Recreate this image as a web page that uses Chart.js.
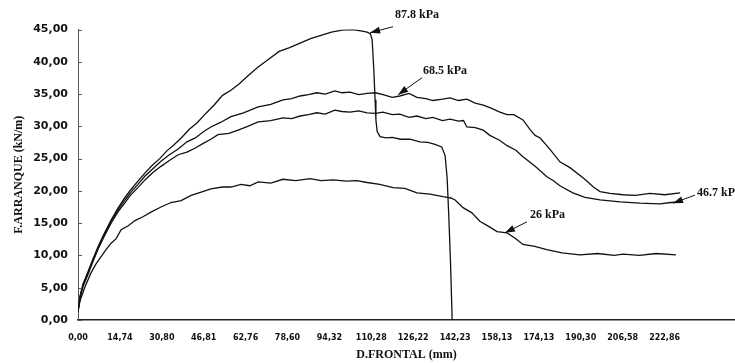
<!DOCTYPE html>
<html>
<head>
<meta charset="utf-8">
<script src="https://cdn.jsdelivr.net/npm/chart.js@4.4.1/dist/chart.umd.min.js"></script>
<style>
  html, body { margin: 0; padding: 0; background: #fff; }
  #wrap { width: 735px; height: 363px; }
</style>
</head>
<body>
<div id="wrap"><canvas id="chart"></canvas></div>
<script>
// tick labels on the x axis (D.FRONTAL, mm), one per category step
const xLabels = ['0,00', '14,74', '30,80', '46,81', '62,76', '78,60', '94,32', '110,28',
    '126,22', '142,23', '158,13', '174,13', '190,30', '206,58', '222,86'];

// 87.8 kPa
const x878 = [0, 0.05, 0.12, 0.24, 0.36, 0.48, 0.62, 0.79, 0.95, 1.10, 1.25, 1.43, 1.60, 1.78, 1.95, 2.12,
    2.30, 2.48, 2.65, 2.85, 3.05, 3.25, 3.45, 3.65, 3.85, 4.05, 4.30, 4.55, 4.80, 5.05, 5.30, 5.55, 5.80,
    6.05, 6.30, 6.55, 6.75, 6.90, 6.98, 7.02, 7.06, 7.09, 7.11, 7.14, 7.21, 7.35, 7.50, 7.70, 7.92, 8.16,
    8.35, 8.52, 8.68, 8.76, 8.81, 8.85, 8.89, 8.93];
const y878 = [1.5, 3.8, 5.6, 7.5, 9.5, 11.4, 13.3, 15.5, 17.3, 18.8, 20.1, 21.5, 22.8, 24.0, 25.0, 26.2,
    27.2, 28.3, 29.5, 30.6, 32.0, 33.3, 34.8, 35.6, 36.6, 37.8, 39.2, 40.4, 41.6, 42.2, 42.9, 43.6, 44.1,
    44.6, 44.9, 45.0, 44.8, 44.6, 44.3, 43.4, 38.8, 34.1, 31.0, 29.2, 28.4, 28.2, 28.3, 28.0, 28.0, 27.6,
    27.5, 27.2, 26.8, 25.5, 22.0, 16.0, 9.0, 0];

// 68.5 kPa
const x685 = [0, 0.05, 0.12, 0.24, 0.36, 0.48, 0.62, 0.79, 0.95, 1.10, 1.25, 1.43, 1.60, 1.78, 1.98, 2.18,
    2.39, 2.60, 2.80, 3.00, 3.17, 3.40, 3.65, 3.95, 4.30, 4.60, 4.89, 5.10, 5.30, 5.50, 5.70, 5.90, 6.13,
    6.30, 6.49, 6.70, 6.90, 7.10, 7.28, 7.50, 7.68, 7.90, 8.09, 8.30, 8.47, 8.70, 8.88, 9.08, 9.28, 9.48,
    9.67, 9.83, 10.07, 10.24, 10.40, 10.62, 10.79, 10.91, 11.03, 11.27, 11.50, 11.74, 12.06, 12.15, 12.30,
    12.46, 12.70, 13.01, 13.30, 13.65, 14.00, 14.37];
const y685 = [1.3, 3.6, 5.4, 7.3, 9.3, 11.2, 13.1, 15.3, 17.0, 18.4, 19.7, 21.0, 22.3, 23.4, 24.6, 25.6,
    26.5, 27.6, 28.2, 29.2, 29.9, 30.6, 31.5, 32.1, 33.0, 33.4, 34.1, 34.3, 34.7, 34.9, 35.2, 35.0, 35.5,
    35.2, 35.3, 34.9, 35.1, 35.2, 34.9, 34.5, 34.7, 35.1, 34.5, 34.3, 34.0, 34.2, 34.4, 34.0, 34.2, 33.6,
    33.3, 32.9, 32.2, 31.8, 31.8, 31.0, 29.5, 28.6, 28.2, 26.4, 24.5, 23.6, 22.0, 21.5, 20.6,
    19.9, 19.6, 19.4, 19.3, 19.6, 19.4, 19.7];

// 46.7 kPa
const x467 = [0, 0.05, 0.12, 0.24, 0.36, 0.48, 0.62, 0.79, 0.95, 1.10, 1.25, 1.43, 1.60, 1.78, 1.98, 2.18,
    2.39, 2.60, 2.79, 3.00, 3.17, 3.34, 3.60, 3.82, 4.05, 4.30, 4.60, 4.89, 5.10, 5.30, 5.50, 5.70, 5.90,
    6.13, 6.30, 6.49, 6.70, 6.90, 7.10, 7.28, 7.50, 7.68, 7.90, 8.09, 8.30, 8.47, 8.70, 8.88, 9.08, 9.20,
    9.28, 9.48, 9.67, 9.83, 10.07, 10.24, 10.45, 10.62, 10.91, 11.19, 11.34, 11.50, 11.81, 12.10, 12.46,
    12.94, 13.41, 13.89, 14.15, 14.37];
const y467 = [1.2, 3.4, 5.2, 7.1, 9.1, 11.0, 12.9, 15.0, 16.7, 18.0, 19.3, 20.5, 21.7, 22.8, 23.8, 24.7,
    25.6, 26.0, 26.6, 27.4, 28.0, 28.7, 28.9, 29.4, 30.0, 30.7, 30.9, 31.3, 31.2, 31.6, 31.8, 32.1, 31.9,
    32.5, 32.3, 32.2, 32.4, 32.1, 32.0, 32.2, 31.8, 31.9, 31.4, 31.6, 31.2, 31.4, 30.9, 31.1, 30.8, 30.9,
    29.9, 29.8, 29.4, 28.6, 27.8, 27.0, 26.3, 25.3, 23.8, 22.2, 21.6, 20.8, 19.7, 19.0, 18.6,
    18.3, 18.1, 18.0, 18.2, 18.3];

// 26 kPa
const x26 = [0, 0.05, 0.17, 0.31, 0.43, 0.55, 0.67, 0.79, 0.91, 1.03, 1.20, 1.36, 1.55, 1.74, 1.98, 2.22,
    2.46, 2.70, 2.94, 3.17, 3.45, 3.65, 3.89, 4.10, 4.30, 4.60, 4.89, 5.20, 5.54, 5.80, 6.09, 6.40, 6.65,
    6.90, 7.20, 7.52, 7.80, 8.09, 8.40, 8.71, 8.90, 9.00, 9.19, 9.40, 9.59, 9.80, 10.00, 10.24, 10.45,
    10.62, 10.90, 11.19, 11.55, 11.98, 12.40, 12.80, 13.01, 13.40, 13.80, 14.27];
const y26 = [1.5, 3.0, 5.2, 7.3, 8.7, 9.8, 10.9, 11.9, 12.6, 14.0, 14.6, 15.4, 16.0, 16.7, 17.5, 18.2,
    18.5, 19.3, 19.8, 20.3, 20.6, 20.6, 21.0, 20.8, 21.4, 21.2, 21.8, 21.6, 21.9, 21.6, 21.7, 21.5, 21.6,
    21.3, 21.0, 20.5, 20.4, 19.7, 19.5, 19.1, 18.9, 18.6, 17.4, 16.6, 15.3, 14.5, 13.7, 13.5, 12.6,
    11.7, 11.4, 10.9, 10.4, 10.1, 10.3, 10.0, 10.2, 10.0, 10.3, 10.1];

// curve labels with the point each arrow points to
const notes = [
    { text: '87.8 kPa', x: 6.97, y: 44.5, dx: 23, dy: -6, tx: 2, ty: -12 },
    { text: '68.5 kPa', x: 7.64, y: 34.9, dx: 24, dy: -17, tx: 1, ty: -7 },
    { text: '26 kPa', x: 10.19, y: 13.5, dx: 22, dy: -11, tx: 3, ty: -7 },
    { text: '46.7 kPa', x: 14.2, y: 18.1, dx: 22, dy: -8, tx: 2, ty: -2 }
];

const pts = (xs, ys) => xs.map((x, i) => ({ x: x, y: ys[i] }));
const line = (label, xs, ys) => ({
    label: label,
    data: pts(xs, ys),
    borderColor: '#111',
    borderWidth: 1.3,
    pointRadius: 0,
    tension: 0,
    fill: false
});

// little tick marks drawn inside the y axis, and arrows + text for each curve
const extras = {
    id: 'extras',
    afterDraw(chart) {
        const ctx = chart.ctx;
        const xs = chart.scales.x, ys = chart.scales.y;
        ctx.save();
        ctx.strokeStyle = '#555';
        ctx.lineWidth = 1;
        ys.ticks.forEach(t => {
            const py = Math.round(ys.getPixelForValue(t.value)) + 0.5;
            ctx.beginPath();
            ctx.moveTo(xs.left, py);
            ctx.lineTo(xs.left + 4, py);
            ctx.stroke();
        });
        ctx.strokeStyle = '#111';
        ctx.fillStyle = '#111';
        ctx.font = 'bold 12px "Liberation Serif", "DejaVu Serif", serif';
        ctx.textBaseline = 'middle';
        ctx.textAlign = 'left';
        notes.forEach(n => {
            const px = xs.getPixelForValue(n.x), py = ys.getPixelForValue(n.y);
            const ex = px + n.dx, ey = py + n.dy;
            ctx.beginPath();
            ctx.moveTo(ex, ey);
            ctx.lineTo(px, py);
            ctx.stroke();
            const a = Math.atan2(py - ey, px - ex);
            const len = 10, w = 3.5;
            ctx.beginPath();
            ctx.moveTo(px, py);
            ctx.lineTo(px - len * Math.cos(a) + w * Math.sin(a), py - len * Math.sin(a) - w * Math.cos(a));
            ctx.lineTo(px - len * Math.cos(a) - w * Math.sin(a), py - len * Math.sin(a) + w * Math.cos(a));
            ctx.closePath();
            ctx.fill();
            ctx.fillText(n.text, ex + n.tx, ey + n.ty);
        });
        ctx.restore();
    }
};

new Chart(document.getElementById('chart').getContext('2d'), {
    type: 'line',
    data: {
        datasets: [
            line('87.8 kPa', x878, y878),
            line('68.5 kPa', x685, y685),
            line('46.7 kPa', x467, y467),
            line('26 kPa', x26, y26)
        ]
    },
    options: {
        responsive: true,
        maintainAspectRatio: false,
        animation: false,
        layout: { padding: { top: 29.5, right: 0, left: 0, bottom: 0 } },
        plugins: { legend: { display: false }, tooltip: { enabled: false } },
        scales: {
            x: {
                type: 'linear',
                min: 0,
                max: 15.68,
                afterFit: s => { s.height = 43; },
                grid: { display: false, drawTicks: false },
                border: { display: true, color: '#222', width: 1.5 },
                ticks: {
                    stepSize: 1,
                    includeBounds: false,
                    autoSkip: false,
                    maxRotation: 0,
                    padding: 13,
                    color: '#111',
                    font: { family: '"DejaVu Sans", sans-serif', size: 8, weight: 'bold' },
                    callback: v => xLabels[v] || ''
                },
                title: {
                    display: true,
                    text: 'D.FRONTAL (mm)',
                    color: '#111',
                    padding: { top: 0, bottom: 1 },
                    font: { family: '"Liberation Serif", serif', size: 12, weight: 'bold' }
                }
            },
            y: {
                min: 0,
                max: 45,
                afterFit: s => { s.width = 78; },
                grid: { display: false, drawTicks: false },
                border: { display: true, color: '#555', width: 1 },
                ticks: {
                    stepSize: 5,
                    padding: 10,
                    color: '#111',
                    font: { family: '"DejaVu Sans", sans-serif', size: 11, weight: 'bold' },
                    callback: v => v.toFixed(2).replace('.', ',')
                },
                title: {
                    display: true,
                    text: 'F.ARRANQUE (kN/m)',
                    color: '#111',
                    padding: { top: 12, bottom: 0 },
                    font: { family: '"Liberation Serif", serif', size: 12, weight: 'bold' }
                }
            }
        }
    },
    plugins: [extras]
});
</script>
</body>
</html>
